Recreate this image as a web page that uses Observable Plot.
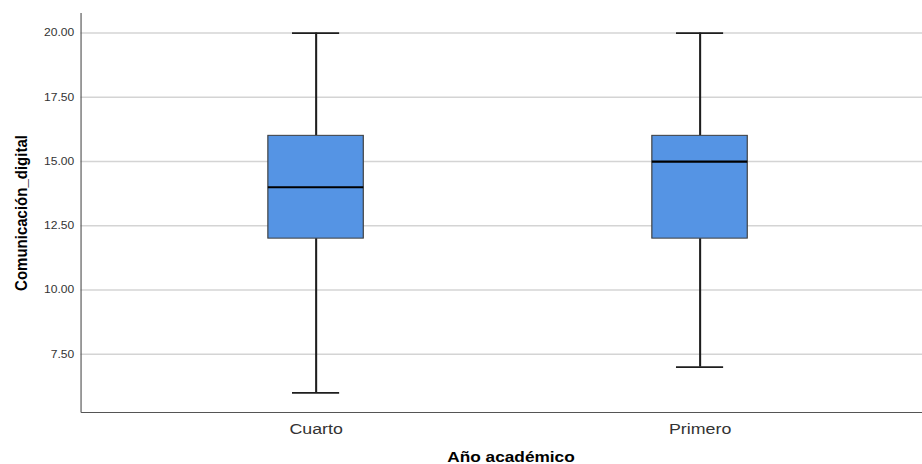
<!DOCTYPE html>
<html>
<head>
<meta charset="utf-8">
<script src="https://cdn.jsdelivr.net/npm/d3@7"></script>
<script src="https://cdn.jsdelivr.net/npm/@observablehq/plot@0.6"></script>
<style>
  html, body { margin: 0; padding: 0; background: #fff; }
  #chart svg { display: block; }
</style>
</head>
<body>
<div id="chart"></div>
<script>
// Box-plot summary per academic year
const groups = ["Cuarto", "Primero"];
const whiskerLow = [6, 7];
const quartile1 = [12, 12];
const medians = [14, 15];
const quartile3 = [16, 16];
const whiskerHigh = [20, 20];

// Y axis ticks and extent
const yTicks = [7.5, 10, 12.5, 15, 17.5, 20];
const yDomain = [5.235, 20.76];

const stats = groups.map((group, i) => ({
  group,
  lo: whiskerLow[i],
  q1: quartile1[i],
  med: medians[i],
  q3: quartile3[i],
  hi: whiskerHigh[i]
}));

// The chart is laid out narrower and stretched horizontally to the page width,
// giving the wide lettering of the SPSS-style output.
const outW = 922, H = 464, stretch = 1.15, W = Math.round(outW / stretch);

// Left and bottom frame lines
function frameLines(index, scales, values, dims) {
  const x0 = dims.marginLeft + 0.5;
  const x1 = dims.width - dims.marginRight;
  const y0 = dims.marginTop;
  const y1 = dims.height - dims.marginBottom + 0.5;
  const g = d3.create("svg:g").attr("stroke", "#555").attr("stroke-width", 1).attr("fill", "none");
  g.append("line").attr("x1", x0).attr("x2", x0).attr("y1", y0).attr("y2", y1);
  g.append("line").attr("x1", x0).attr("x2", x1).attr("y1", y1).attr("y2", y1);
  return g.node();
}

const whisker = {x: "group", stroke: "#1e1e1e", strokeWidth: 1.8};
const cap = {x: "group", stroke: "#1e1e1e", strokeWidth: 1.8, insetLeft: 21, insetRight: 21};

const chart = Plot.plot({
  width: W,
  height: H,
  marginLeft: 70,
  marginRight: 0,
  marginTop: 13,
  marginBottom: 52,
  style: {fontFamily: "'Liberation Sans', Arial, sans-serif", background: "#fff", overflow: "visible"},
  x: {domain: groups, type: "band", paddingInner: 0.7506, paddingOuter: 0.4685, align: 0.517, label: null},
  y: {domain: yDomain, label: null},
  marks: [
    Plot.gridY(yTicks, {stroke: "#d4d4d4", strokeOpacity: 1, strokeWidth: 1.6}),
    Plot.axisY(yTicks, {tickSize: 0, tickPadding: 6, tickFormat: d3.format(".2f"), fontSize: 10.5, fill: "#333", label: null}),
    Plot.axisX({tickSize: 0, tickPadding: 10, fontSize: 15.5, fill: "#333", label: null}),
    Plot.ruleX(stats, {...whisker, y1: "lo", y2: "q1"}),
    Plot.ruleX(stats, {...whisker, y1: "q3", y2: "hi"}),
    Plot.tickY(stats, {...cap, y: "lo"}),
    Plot.tickY(stats, {...cap, y: "hi"}),
    Plot.barY(stats, {x: "group", y1: "q1", y2: "q3", fill: "#5594e4", stroke: "#3c3c3c", strokeWidth: 1}),
    Plot.tickY(stats, {x: "group", y: "med", stroke: "#000", strokeWidth: 2.2}),
    Plot.text(["Comunicación_digital"], {text: (d) => d, frameAnchor: "left", textAnchor: "middle", rotate: -90, dx: -52, fontSize: 15, fontWeight: "bold", fill: "#000"}),
    Plot.text(["Año académico"], {text: (d) => d, frameAnchor: "bottom", textAnchor: "middle", dx: 8, dy: 49, fontSize: 15, fontWeight: "bold", fill: "#000"}),
    frameLines
  ]
});

chart.setAttribute("width", outW);
chart.setAttribute("height", H);
chart.setAttribute("preserveAspectRatio", "none");
chart.style.width = outW + "px";
chart.style.height = H + "px";
chart.style.maxWidth = "none";
document.getElementById("chart").appendChild(chart);
</script>
</body>
</html>
